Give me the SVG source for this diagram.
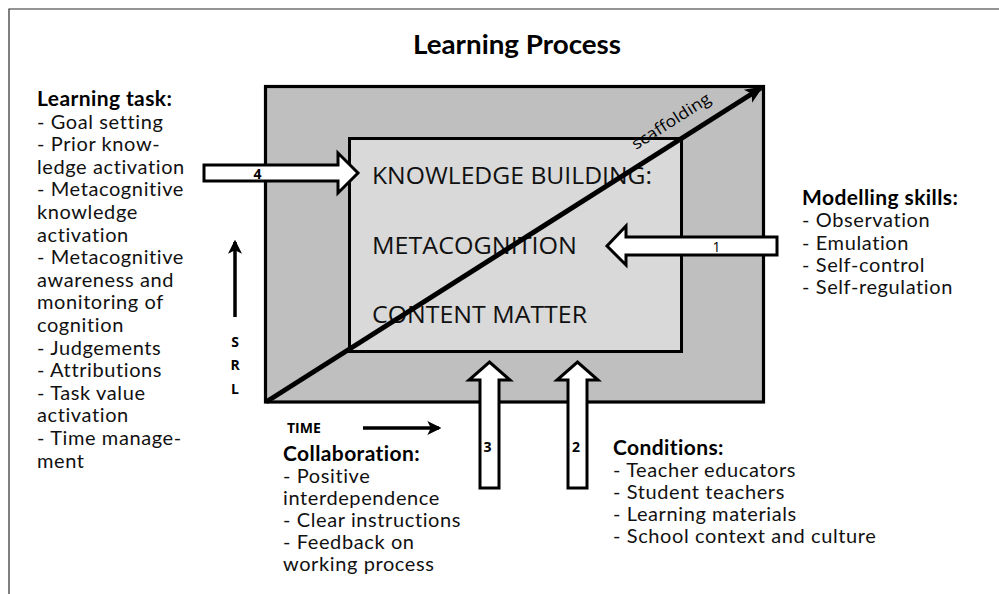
<svg xmlns="http://www.w3.org/2000/svg" width="999" height="594" viewBox="0 0 999 594">
  <style>
    .frame { fill: none; stroke: #2a2a2a; stroke-width: 1.2; }
    .outer { fill: #bfbfbf; stroke: #000; stroke-width: 3.2; }
    .inner { fill: #d9d9d9; stroke: #000; stroke-width: 3; }
    .block { fill: #fff; stroke: #000; stroke-width: 3; stroke-linejoin: miter; }
    .shaft { fill: none; stroke: #000; stroke-width: 3.5; }
    .diag { fill: none; stroke: #000; stroke-width: 5; }
    .title { font-family: Lato, "Liberation Sans", sans-serif; font-weight: 700; font-size: 27px; fill: #000; }
    .head { font-family: Lato, "Liberation Sans", sans-serif; font-weight: 700; font-size: 21px; letter-spacing: 0.4px; fill: #000; }
    .list { font-family: Lato, "Liberation Sans", sans-serif; font-size: 20px; letter-spacing: 0.6px; fill: #111; }
    .big { font-family: "Open Sans", "Liberation Sans", sans-serif; font-size: 24px; fill: #111; }
    .lbl { font-family: "Open Sans", "Liberation Sans", sans-serif; font-weight: 700; font-size: 14px; fill: #000; }
    .num { font-family: "Open Sans", "Liberation Sans", sans-serif; font-size: 14px; fill: #000; }
    .scaf { font-family: "Open Sans", "Liberation Sans", sans-serif; font-size: 16px; fill: #000; }
  </style>
  <defs>
    <marker id="chev" viewBox="0 0 12 12" refX="10" refY="6" markerWidth="14" markerHeight="14" markerUnits="userSpaceOnUse" orient="auto">
      <path d="M0,0 L12,6 L0,12 L3,6 Z" fill="#000"/>
    </marker>
    <marker id="chevBig" viewBox="0 0 14 14" refX="12" refY="7" markerWidth="18" markerHeight="18" markerUnits="userSpaceOnUse" orient="auto">
      <path d="M0,1 L14,7 L0,13 L3.5,7 Z" fill="#000"/>
    </marker>
  </defs>

  <!-- page frame -->
  <path class="frame" d="M9,594 L9,9 L999,9"/>

  <!-- title -->
  <text class="title" x="517" y="54" text-anchor="middle" textLength="208" lengthAdjust="spacingAndGlyphs">Learning Process</text>

  <!-- central process box -->
  <g id="process-box">
    <rect class="outer" x="265.5" y="86.5" width="498" height="315.5"/>
    <rect class="inner" x="349.5" y="138.5" width="332" height="213"/>
    <text class="big" x="372" y="184" textLength="280" lengthAdjust="spacingAndGlyphs">KNOWLEDGE BUILDING:</text>
    <text class="big" x="372" y="254" textLength="205" lengthAdjust="spacingAndGlyphs">METACOGNITION</text>
    <text class="big" x="372" y="323" textLength="215" lengthAdjust="spacingAndGlyphs">CONTENT MATTER</text>
  </g>

  <!-- learning task list -->
  <g id="learning-task">
    <text class="head" x="37" y="106">Learning task:</text>
    <text class="list" x="37" y="128.6">- Goal setting</text>
    <text class="list" x="37" y="151.2">- Prior know-</text>
    <text class="list" x="37" y="173.8">ledge activation</text>
    <text class="list" x="37" y="196.4">- Metacognitive</text>
    <text class="list" x="37" y="219">knowledge</text>
    <text class="list" x="37" y="241.6">activation</text>
    <text class="list" x="37" y="264.2">- Metacognitive</text>
    <text class="list" x="37" y="286.8">awareness and</text>
    <text class="list" x="37" y="309.4">monitoring of</text>
    <text class="list" x="37" y="332">cognition</text>
    <text class="list" x="37" y="354.6">- Judgements</text>
    <text class="list" x="37" y="377.2">- Attributions</text>
    <text class="list" x="37" y="399.8">- Task value</text>
    <text class="list" x="37" y="422.4">activation</text>
    <text class="list" x="37" y="445">- Time manage-</text>
    <text class="list" x="37" y="467.6">ment</text>
  </g>

  <!-- modelling skills list -->
  <g id="modelling-skills">
    <text class="head" x="802" y="205">Modelling skills:</text>
    <text class="list" x="802" y="227.3">- Observation</text>
    <text class="list" x="802" y="249.6">- Emulation</text>
    <text class="list" x="802" y="271.9">- Self-control</text>
    <text class="list" x="802" y="294.2">- Self-regulation</text>
  </g>

  <!-- collaboration list -->
  <g id="collaboration">
    <text class="head" x="283" y="461">Collaboration:</text>
    <text class="list" x="283" y="483">- Positive</text>
    <text class="list" x="283" y="505">interdependence</text>
    <text class="list" x="283" y="527">- Clear instructions</text>
    <text class="list" x="283" y="549">- Feedback on</text>
    <text class="list" x="283" y="571">working process</text>
  </g>

  <!-- conditions list -->
  <g id="conditions">
    <text class="head" x="613" y="455">Conditions:</text>
    <text class="list" x="613" y="477">- Teacher educators</text>
    <text class="list" x="613" y="499">- Student teachers</text>
    <text class="list" x="613" y="521">- Learning materials</text>
    <text class="list" x="613" y="543">- School context and culture</text>
  </g>

  <!-- axis labels -->
  <g id="axis-srl">
    <text class="lbl" x="235" y="347" text-anchor="middle">S</text>
    <text class="lbl" x="235" y="370" text-anchor="middle">R</text>
    <text class="lbl" x="235" y="394" text-anchor="middle">L</text>
  </g>
  <g id="axis-time">
    <text class="lbl" x="287" y="433">TIME</text>
  </g>

  <!-- connectors -->
  <g id="connectors">
    <!-- scaffolding diagonal -->
    <line class="diag" x1="266" y1="402" x2="761" y2="88" marker-end="url(#chevBig)"/>
    <text class="scaf" transform="translate(636,150) rotate(-32.6)" textLength="90" lengthAdjust="spacingAndGlyphs">scaffolding</text>

    <!-- SRL axis arrow -->
    <line class="shaft" x1="235" y1="317" x2="235" y2="242" marker-end="url(#chev)"/>
    <!-- TIME axis arrow -->
    <line class="shaft" x1="363" y1="428" x2="439" y2="428" marker-end="url(#chev)"/>

    <!-- input arrows -->
    <g id="arrow-4">
      <polygon class="block" points="204,165 338,165 338,153 358,173 338,193 338,181 204,181"/>
      <text class="lbl" x="257.5" y="178.5" text-anchor="middle">4</text>
    </g>
    <g id="arrow-1">
      <polygon class="block" points="777,237 626,237 626,226 607,246 626,265 626,255 777,255"/>
      <text class="num" x="716.5" y="251.5" text-anchor="middle">1</text>
    </g>
    <g id="arrow-3">
      <polygon class="block" points="480,488 480,380 469,380 489.5,362 510,380 499,380 499,488"/>
      <text class="lbl" x="487.5" y="452" text-anchor="middle">3</text>
    </g>
    <g id="arrow-2">
      <polygon class="block" points="568,488 568,380 557,380 577.5,362 598,380 587,380 587,488"/>
      <text class="lbl" x="576" y="452" text-anchor="middle">2</text>
    </g>
  </g>
</svg>
